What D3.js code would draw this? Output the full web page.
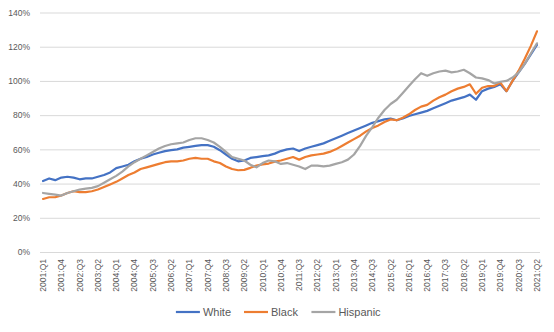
<!DOCTYPE html>
<html>
<head>
<meta charset="utf-8">
<script src="https://cdn.jsdelivr.net/npm/d3@7"></script>
<style>
  html, body { margin: 0; padding: 0; background: #fff; }
  svg { display: block; font-family: "Liberation Sans", Arial, sans-serif; }
</style>
</head>
<body>
<svg id="chart" width="554" height="332"></svg>
<script>
// ---- data ----
const years = d3.range(2001, 2022);
const quarters = [];
years.forEach(yr => [1,2,3,4].forEach(q => { if (!(yr === 2021 && q > 2)) quarters.push(yr + ":Q" + q); }));

const tickLabels = ["2001:Q1","2001:Q4","2002:Q3","2003:Q2","2004:Q1","2004:Q4","2005:Q3","2006:Q2",
  "2007:Q1","2007:Q4","2008:Q3","2009:Q2","2010:Q1","2010:Q4","2011:Q3","2012:Q2","2013:Q1","2013:Q4",
  "2014:Q3","2015:Q2","2016:Q1","2016:Q4","2017:Q3","2018:Q2","2019:Q1","2019:Q4","2020:Q3","2021:Q2"];

const yTicks = [0, 0.2, 0.4, 0.6, 0.8, 1.0, 1.2, 1.4];

const white = [41.5,43,42,43.5,44,43.5,42.5,43,43,44,
  45,46.5,49,50,51,53,54.5,55.5,57,58,
  59,59.5,60,61,61.5,62,62.5,62.5,61.5,59.5,
  57,54.5,53,53.5,55,55.5,56,56.5,57.5,59,
  60,60.5,59,60.5,61.5,62.5,63.5,65,66.5,68,
  69.5,71,72.5,74,75.5,76.5,77.5,78,77,78,
  79.5,80.5,81.5,82.5,84,85.5,87,88.5,89.5,90.5,
  92,89,94,95.5,96.5,98,94,100,105,110,
  115.5,121];

const black = [31,32,32,33,34.5,35.5,35,35,35.5,36.5,
  38,39.5,41,43,45,46.5,48.5,49.5,50.5,51.5,
  52.5,53,53,53.5,54.5,55,54.5,54.5,53,52,
  50,48.5,47.8,48,49.2,50.5,51.2,51.7,52.8,53.5,
  54.5,55.5,54,55.5,56.5,57,57.5,58.5,60,62,
  64,66,68,70.5,72.5,74,76,77.5,77,78.5,
  80.5,83,85,86,88.5,90.5,92,94,95.5,96.5,
  98,92.5,96,97,97,99,94,100,106,113,
  120.5,129];

const hispanic = [34.5,34,33.5,33,34.5,35.5,36.5,37,37.5,38.5,
  40.5,42.5,44.5,47,50,52.5,54.5,56.5,58.5,60.5,
  62,63,63.5,64,65.5,66.5,66.5,65.5,64,61.5,
  58.5,55.5,54.5,53.5,51,49.5,52,53.5,53,51.5,
  52,51,50,48.5,50.5,50.5,50,50.5,51.5,52.5,
  54,57,62,68,73,78.5,83,86.5,89,93,
  97,101,104.5,103,104.5,105.5,106,105,105.5,106.5,
  104.5,102,101.5,100.5,98.5,99.5,100,102,105,110,
  116,122];

const seriesNames = ["White", "Black", "Hispanic"];
const seriesColors = ["#4472C4", "#ED7D31", "#A5A5A5"];
const series = [
  { name: seriesNames[0], color: seriesColors[0], values: white },
  { name: seriesNames[1], color: seriesColors[1], values: black },
  { name: seriesNames[2], color: seriesColors[2], values: hispanic }
];

// ---- layout ----
const svg = d3.select("#chart");
const mLeft = 40, mRight = 540, mTop = 12.5, mBottom = 252;

const x = d3.scaleBand().domain(quarters).range([mLeft, mRight]).paddingInner(0).paddingOuter(0);
const cx = q => x(q) + x.bandwidth() / 2;
const y = d3.scaleLinear().domain([0, 1.4]).range([mBottom, mTop]);

// y axis + gridlines
const yAxis = svg.append("g")
  .attr("transform", `translate(${mLeft},0)`)
  .call(d3.axisLeft(y).tickValues(yTicks).tickSize(-(mRight - mLeft)).tickPadding(10).tickFormat(d3.format(".0%")));
yAxis.select(".domain").remove();
yAxis.selectAll(".tick line").attr("stroke", "#D9D9D9").attr("stroke-width", 1);
yAxis.selectAll(".tick text").attr("fill", "#595959").style("font-size", "8.5px");

// x axis
const xAxis = svg.append("g")
  .attr("transform", `translate(0,${mBottom})`)
  .call(d3.axisBottom(x).tickValues(tickLabels).tickSize(0));
xAxis.select(".domain").remove();
xAxis.selectAll(".tick text")
  .attr("fill", "#595959")
  .style("font-size", "8.5px")
  .attr("transform", "rotate(-90)")
  .attr("text-anchor", "end")
  .attr("x", -7)
  .attr("y", 0)
  .attr("dy", "0.35em");

// lines
const line = d3.line()
  .x((d, i) => cx(quarters[i]))
  .y(d => y(d / 100));

svg.append("g").selectAll("path")
  .data(series)
  .join("path")
  .attr("fill", "none")
  .attr("stroke", d => d.color)
  .attr("stroke-width", 2.2)
  .attr("stroke-linejoin", "round")
  .attr("stroke-linecap", "round")
  .attr("d", d => line(d.values));

// legend
const legend = svg.append("g").attr("transform", "translate(0,312)");
const lineLen = 24, gapText = 3, gapItem = 13, fontSize = 11;
const items = legend.selectAll("g").data(series).join("g");
items.append("line")
  .attr("x1", 0).attr("x2", lineLen).attr("y1", 0).attr("y2", 0)
  .attr("stroke", d => d.color).attr("stroke-width", 2.2);
items.append("text")
  .attr("x", lineLen + gapText)
  .attr("dy", "0.35em")
  .attr("fill", "#595959")
  .style("font-size", fontSize + "px")
  .text(d => d.name);
let widths = [];
items.each(function() { widths.push(this.getBBox().width); });
const total = d3.sum(widths) + gapItem * (widths.length - 1);
let pos = 278.5 - total / 2;
items.attr("transform", (d, i) => { const p = pos; pos += widths[i] + gapItem; return `translate(${p},0)`; });
</script>
</body>
</html>
